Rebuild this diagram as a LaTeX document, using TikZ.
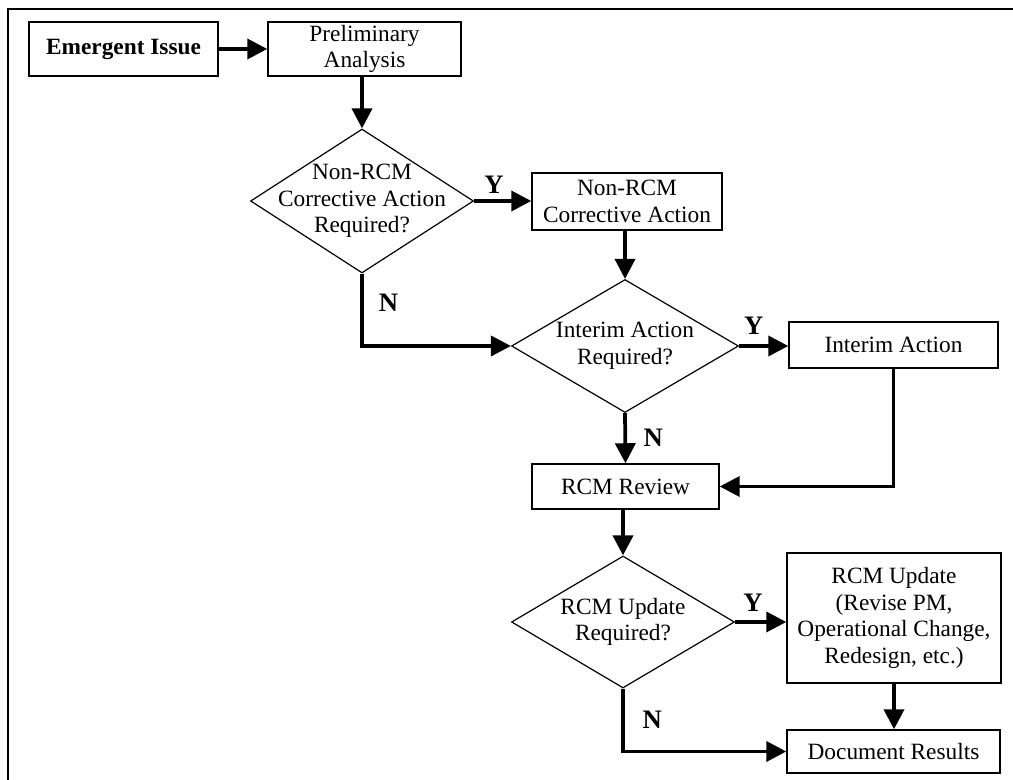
\documentclass[tikz,border=0pt]{standalone}
\usepackage{fontspec}
\setmainfont{Liberation Serif}
\usetikzlibrary{shapes.geometric,arrows.meta}

\tikzset{
  box/.style={draw, line width=1.1pt, align=center, inner sep=2pt},
  dec/.style={draw, diamond, line width=0.9pt, inner sep=0pt},
  dectext/.style={align=center},
  flow/.style={line width=2.8pt, -{Triangle[length=15pt,width=15pt]}},
  yn/.style={font=\fontsize{20}{24}\selectfont\bfseries},
}

\begin{document}
\begin{tikzpicture}[x=0.75pt, y=-0.75pt, every node/.style={font=\fontsize{17.5}{20}\selectfont}]
\clip (0,0) rectangle (1013,780);
\draw[line width=1.5pt] (8,9) rectangle (1030,800);

% boxes
\node[box, minimum width=141.75pt, minimum height=40.5pt] (issue) at (123.5,49) {\bfseries Emergent Issue};
\node[box, minimum width=144.75pt, minimum height=40.5pt] (prelim) at (364.5,49) {Preliminary\\Analysis};
\node[box, minimum width=142.5pt, minimum height=42.75pt] (nonrcm) at (627,201.5) {Non-RCM\\Corrective Action};
\node[box, minimum width=156.75pt, minimum height=34.5pt] (interim) at (893.5,345) {Interim Action};
\node[box, minimum width=140.25pt, minimum height=33.75pt] (review) at (625.5,486.5) {RCM Review};
\node[box, minimum width=160.5pt, minimum height=97.5pt] (update) at (894,618) {RCM Update\\(Revise PM,\\Operational Change,\\Redesign, etc.)};
\node[box, minimum width=159.75pt, minimum height=32.25pt] (results) at (893.5,751.5) {Document Results};

% decisions
\node[dec, minimum width=167.25pt, minimum height=108pt,
  label={[dectext]center:Non-RCM\\Corrective Action\\Required?}] (d1) at (362,201) {};
\node[dec, minimum width=170.25pt, minimum height=99.75pt,
  label={[dectext]center:Interim Action\\Required?}] (d2) at (625,346) {};
\node[dec, minimum width=167.25pt, minimum height=99pt,
  label={[dectext]center:RCM Update\\Required?}] (d3) at (623,622) {};

% connectors
\draw[flow] (issue.east) -- (prelim.west);
\draw[flow] (prelim.south -| d1.north) -- (d1.north);
\draw[flow] (d1.east) -- (d1.east -| nonrcm.west) node[yn, pos=0.35, above=1pt] (y1) {Y};
\draw[flow] (nonrcm.south -| d2.north) -- (d2.north);
\draw[flow] (d1.south) |- (d2.west) node[yn, pos=0.2, right=8pt] (n1) {N};
\draw[flow] (d2.east) -- (d2.east -| interim.west) node[yn, pos=0.3, above=4pt] (y2) {Y};
\draw[flow] (d2.south) -- (review.north) node[yn, midway, right=9pt] (n2) {N};
\draw[flow] (interim.south) |- (review.east);
\draw[flow] (review.south -| d3.north) -- (d3.north);
\draw[flow] (d3.east) -- (d3.east -| update.west) node[yn, pos=0.35, above=3pt] (y3) {Y};
\draw[flow] (update.south) -- (update.south |- results.north);
\draw[flow] (d3.south) |- (results.west) node[yn, pos=0.25, right=10pt] (n3) {N};
\end{tikzpicture}
\end{document}
